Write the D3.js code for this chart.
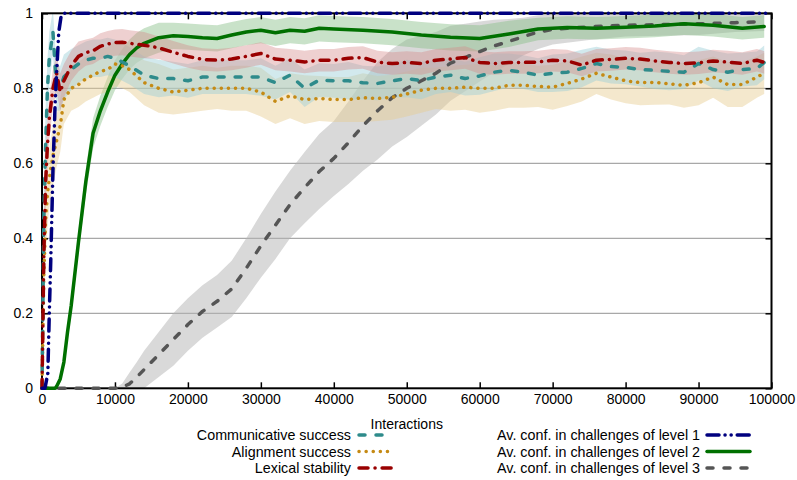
<!DOCTYPE html>
<html>
<head>
<meta charset="utf-8">
<script src="https://cdn.jsdelivr.net/npm/d3@7"></script>
<style>
  body { margin: 0; background: #fff; }
  text { font-family: "Liberation Sans", Arial, Helvetica, sans-serif; }
</style>
</head>
<body>
<svg id="chart"></svg>
<script>
// shared interaction counts for the three noisy measures
const interactions = [
  0, 250, 500, 750, 1000, 1500, 2000, 2500, 3000, 4000, 5000, 6000, 7000, 8000, 9000, 10000, 11000, 12000,
  14000, 16000, 18000, 20000, 22000, 24000, 26000, 28000, 30000, 32000,
  34000, 36000, 38000, 40000, 42000, 44000, 46000, 48000, 50000, 52000,
  54000, 56000, 58000, 60000, 62000, 64000, 66000, 68000, 70000, 72000,
  74000, 76000, 78000, 80000, 82000, 84000, 86000, 88000, 90000, 92000,
  94000, 96000, 98000, 99000
];

const commSuccess = [
  0, 0.45, 0.65, 0.8, 0.88, 0.95, 0.8, 0.8, 0.83, 0.85, 0.865, 0.875, 0.88, 0.88, 0.885, 0.88, 0.87, 0.86,
  0.835, 0.826, 0.826, 0.82, 0.83, 0.83, 0.83, 0.83, 0.83, 0.815,
  0.835, 0.8, 0.822, 0.82, 0.82, 0.815, 0.813, 0.82, 0.826, 0.821,
  0.83, 0.835, 0.826, 0.833, 0.843, 0.848, 0.843, 0.835, 0.84, 0.843,
  0.853, 0.866, 0.858, 0.856, 0.85, 0.848, 0.845, 0.843, 0.866, 0.85,
  0.843, 0.85, 0.853, 0.869
];
const commSpread = [
  0, 0.1, 0.1, 0.08, 0.07, 0.06, 0.06, 0.06, 0.06, 0.055, 0.05, 0.05, 0.05, 0.05, 0.05, 0.05, 0.05, 0.05,
  0.05, 0.05, 0.045, 0.045, 0.045, 0.045, 0.045, 0.045, 0.05, 0.045,
  0.045, 0.05, 0.045, 0.045, 0.05, 0.045, 0.045, 0.045, 0.05, 0.05,
  0.045, 0.045, 0.045, 0.05, 0.05, 0.045, 0.045, 0.045, 0.05, 0.05,
  0.05, 0.045, 0.045, 0.045, 0.045, 0.05, 0.05, 0.045, 0.045, 0.05,
  0.05, 0.045, 0.045, 0.045
];

const alignSuccess = [
  0, 0.3, 0.45, 0.52, 0.56, 0.62, 0.66, 0.7, 0.77, 0.8, 0.81, 0.825, 0.835, 0.845, 0.85, 0.865, 0.86, 0.85,
  0.815, 0.8, 0.79, 0.795, 0.8, 0.8, 0.8, 0.8, 0.79, 0.765,
  0.78, 0.77, 0.773, 0.77, 0.77, 0.775, 0.773, 0.776, 0.785, 0.795,
  0.8, 0.8, 0.803, 0.8, 0.8, 0.808, 0.808, 0.805, 0.803, 0.813,
  0.825, 0.84, 0.83, 0.82, 0.815, 0.816, 0.812, 0.808, 0.815, 0.83,
  0.81, 0.81, 0.83, 0.84
];
const alignSpread = [
  0, 0.1, 0.1, 0.09, 0.08, 0.08, 0.07, 0.07, 0.065, 0.06, 0.06, 0.06, 0.06, 0.06, 0.06, 0.06, 0.06, 0.06,
  0.06, 0.065, 0.06, 0.06, 0.06, 0.055, 0.06, 0.06, 0.065, 0.06,
  0.06, 0.065, 0.06, 0.06, 0.06, 0.065, 0.06, 0.06, 0.06, 0.06,
  0.055, 0.06, 0.06, 0.065, 0.06, 0.06, 0.06, 0.055, 0.06, 0.06,
  0.06, 0.055, 0.06, 0.06, 0.06, 0.06, 0.055, 0.06, 0.06, 0.055,
  0.06, 0.06, 0.055, 0.055
];

const lexStability = [
  0, 0.35, 0.55, 0.65, 0.72, 0.8, 0.84, 0.79, 0.82, 0.86, 0.885, 0.895, 0.9, 0.912, 0.918, 0.922, 0.923, 0.92,
  0.915, 0.908, 0.896, 0.885, 0.877, 0.875, 0.878, 0.885, 0.893, 0.878,
  0.875, 0.87, 0.875, 0.875, 0.88, 0.882, 0.87, 0.866, 0.869, 0.866,
  0.875, 0.878, 0.882, 0.869, 0.866, 0.869, 0.869, 0.87, 0.875, 0.873,
  0.862, 0.875, 0.877, 0.88, 0.878, 0.873, 0.869, 0.866, 0.868, 0.873,
  0.87, 0.866, 0.875, 0.869
];
const lexSpread = [
  0, 0.1, 0.08, 0.07, 0.06, 0.05, 0.05, 0.05, 0.045, 0.04, 0.04, 0.035, 0.035, 0.035, 0.035, 0.035, 0.035, 0.035,
  0.035, 0.03, 0.03, 0.03, 0.03, 0.03, 0.03, 0.03, 0.03, 0.03,
  0.03, 0.03, 0.03, 0.03, 0.03, 0.03, 0.03, 0.03, 0.03, 0.03,
  0.03, 0.03, 0.03, 0.03, 0.03, 0.03, 0.03, 0.03, 0.03, 0.03,
  0.03, 0.03, 0.03, 0.03, 0.03, 0.03, 0.03, 0.03, 0.03, 0.03,
  0.03, 0.03, 0.03, 0.03
];

// challenge levels, each with its own sampling
const level1X = [0, 400, 800, 1000, 1200, 1500, 1800, 2000, 2300, 2600, 3000, 100000];
const level1Conf = [0, 0, 0.04, 0.2, 0.34, 0.58, 0.76, 0.84, 0.95, 0.99, 1, 1];

const level2X = [
  0, 1000, 1800, 2000, 2500, 3000, 3500, 4000, 5000, 6000, 7000, 8000, 9000, 10000, 11000, 12000, 13000, 14000,
  16000, 18000, 20000, 22000, 24000, 26000, 28000, 30000, 32000, 34000, 36000, 38000, 40000,
  44000, 48000, 52000, 56000, 60000, 64000, 68000, 72000, 76000, 80000, 84000, 88000, 92000, 96000, 99000
];
const level2Conf = [
  0, 0, 0, 0.005, 0.025, 0.07, 0.15, 0.22, 0.39, 0.55, 0.68, 0.74, 0.79, 0.835, 0.865, 0.89, 0.908, 0.92,
  0.935, 0.94, 0.938, 0.935, 0.933, 0.942, 0.95, 0.955, 0.948, 0.955, 0.952, 0.96, 0.958,
  0.955, 0.95, 0.942, 0.936, 0.933, 0.945, 0.958, 0.962, 0.96, 0.963, 0.966, 0.972, 0.968, 0.96, 0.965
];
const level2Spread = [
  0, 0, 0, 0.005, 0.01, 0.015, 0.02, 0.025, 0.03, 0.035, 0.04, 0.04, 0.04, 0.04, 0.04, 0.04, 0.04, 0.04,
  0.04, 0.035, 0.035, 0.035, 0.035, 0.035, 0.035, 0.035, 0.035, 0.035, 0.035, 0.035, 0.035,
  0.035, 0.035, 0.035, 0.035, 0.035, 0.035, 0.03, 0.03, 0.03, 0.03, 0.03, 0.03, 0.03, 0.03, 0.03
];

const level3X = [
  0, 10000, 11000, 12000, 13000, 14000, 16000, 18000, 20000, 22000, 24000, 26000, 28000, 30000,
  32000, 34000, 36000, 38000, 40000, 42000, 44000, 46000, 48000, 50000, 52000, 54000, 56000,
  58000, 60000, 62000, 64000, 66000, 68000, 70000, 75000, 80000, 85000, 90000, 95000, 99000
];
const level3Conf = [
  0, 0, 0.003, 0.012, 0.03, 0.05, 0.09, 0.13, 0.17, 0.205, 0.232, 0.265, 0.32, 0.38,
  0.435, 0.49, 0.535, 0.578, 0.613, 0.655, 0.7, 0.74, 0.775, 0.8, 0.82, 0.84, 0.867,
  0.882, 0.898, 0.913, 0.925, 0.938, 0.95, 0.957, 0.964, 0.968, 0.97, 0.972, 0.975, 0.978
];
const level3Spread = [
  0, 0, 0.01, 0.03, 0.04, 0.05, 0.06, 0.07, 0.07, 0.07, 0.07, 0.075, 0.08, 0.085,
  0.09, 0.09, 0.095, 0.1, 0.1, 0.11, 0.12, 0.13, 0.13, 0.13, 0.12, 0.11, 0.1,
  0.09, 0.08, 0.07, 0.06, 0.05, 0.045, 0.04, 0.035, 0.03, 0.03, 0.03, 0.025, 0.025
];

const xTicks = [0, 10000, 20000, 30000, 40000, 50000, 60000, 70000, 80000, 90000, 100000];
const yTicks = [0, 0.2, 0.4, 0.6, 0.8, 1];
const gridValues = [0.2, 0.4, 0.6, 0.8];

const W = 797, H = 480;
const svg = d3.select("#chart").attr("width", W).attr("height", H);

const x = d3.scaleLinear().domain([0, 100000]).range([42, 771.5]);
const y = d3.scaleLinear().domain([0, 1]).range([388.3, 13.3]);

const zip = (xs, ms, ss) => xs.map((v, i) => ({ x: v, m: ms[i], s: ss ? ss[i] : 0 }));

const series = [
  { key: "level3", label: "Av. conf. in challenges of level 3", data: zip(level3X, level3Conf, level3Spread),
    color: "#555555", band: "#b4b4b4", bandOp: 0.5, width: 3.5, dash: "6,11", col: 1, row: 2 },
  { key: "level2", label: "Av. conf. in challenges of level 2", data: zip(level2X, level2Conf, level2Spread),
    color: "#007000", band: "#88bf88", bandOp: 0.45, width: 3.5, dash: null, col: 1, row: 1 },
  { key: "align", label: "Alignment success", data: zip(interactions, alignSuccess, alignSpread),
    color: "#c58a14", band: "#e6cc90", bandOp: 0.45, width: 3.5, dash: "0.1,7", col: 0, row: 1 },
  { key: "comm", label: "Communicative success", data: zip(interactions, commSuccess, commSpread),
    color: "#2e8b8b", band: "#9ccfd8", bandOp: 0.45, width: 3.5, dash: "6,11", col: 0, row: 0 },
  { key: "lex", label: "Lexical stability", data: zip(interactions, lexStability, lexSpread),
    color: "#990000", band: "#d48a8a", bandOp: 0.4, width: 3.5, dash: "9,7,0.1,7", col: 0, row: 2 },
  { key: "level1", label: "Av. conf. in challenges of level 1", data: zip(level1X, level1Conf, null),
    color: "#00007f", band: null, bandOp: 0, width: 3.5, dash: "12,6,0.1,6,0.1,6", col: 1, row: 0 }
];

svg.append("defs").append("clipPath").attr("id", "plotClip")
  .append("rect")
  .attr("x", x(0)).attr("y", y(1))
  .attr("width", x(100000) - x(0)).attr("height", y(0) - y(1));

// grid
svg.append("g").selectAll("line").data(gridValues).join("line")
  .attr("x1", x(0)).attr("x2", x(100000))
  .attr("y1", d => y(d)).attr("y2", d => y(d))
  .attr("stroke", "#a8a8a8").attr("stroke-width", 1.2);

// bands
const area = d3.area()
  .x(d => x(d.x))
  .y0(d => y(d.m - d.s))
  .y1(d => y(d.m + d.s));

svg.append("g").attr("clip-path", "url(#plotClip)")
  .selectAll("path").data(series.filter(s => s.band)).join("path")
  .attr("d", s => area(s.data))
  .attr("fill", s => s.band)
  .attr("fill-opacity", s => s.bandOp);

// frame and ticks
const fontSize = 14;
const xAxisB = d3.axisBottom(x).tickValues(xTicks).tickSize(-6).tickPadding(6)
  .tickFormat(d3.format("d"));
const xAxisT = d3.axisTop(x).tickValues(xTicks).tickSize(-6).tickFormat("");
const yAxisL = d3.axisLeft(y).tickValues(yTicks).tickSize(-6).tickPadding(9)
  .tickFormat(d => String(+d.toFixed(1)));
const yAxisR = d3.axisRight(y).tickValues(yTicks).tickSize(-6).tickFormat("");

function styleAxis(g) {
  g.select(".domain").remove();
  g.selectAll(".tick line").attr("stroke", "#000").attr("stroke-width", 1.5);
  g.selectAll(".tick text").attr("fill", "#000")
    .style("font-size", fontSize + "px")
    .style("font-family", "'Liberation Sans', Arial, Helvetica, sans-serif");
}

svg.append("g").attr("transform", `translate(0,${y(0)})`).call(xAxisB).call(styleAxis);
svg.append("g").attr("transform", `translate(0,${y(1)})`).call(xAxisT).call(styleAxis);
svg.append("g").attr("transform", `translate(${x(0)},0)`).call(yAxisL).call(styleAxis);
svg.append("g").attr("transform", `translate(${x(100000)},0)`).call(yAxisR).call(styleAxis);

svg.append("rect")
  .attr("x", x(0)).attr("y", y(1))
  .attr("width", x(100000) - x(0)).attr("height", y(0) - y(1))
  .attr("fill", "none").attr("stroke", "#000").attr("stroke-width", 2);

// lines
const line = d3.line().x(d => x(d.x)).y(d => y(d.m));

svg.append("g").selectAll("path").data(series).join("path")
  .attr("d", s => line(s.data))
  .attr("fill", "none")
  .attr("stroke", s => s.color)
  .attr("stroke-width", s => s.width)
  .attr("stroke-linecap", "round")
  .attr("stroke-linejoin", "round")
  .attr("stroke-dasharray", s => s.dash);

// axis title
svg.append("text")
  .attr("x", (x(0) + x(100000)) / 2).attr("y", 429)
  .attr("text-anchor", "middle")
  .style("font-size", "14px")
  .text("Interactions");

// legend
const legendCols = [{ textEnd: 351, sx0: 359, sx1: 393 }, { textEnd: 700, sx0: 707, sx1: 750 }];
const legendRows = [440, 456.5, 473];

const legend = svg.append("g");
series.forEach(s => {
  const c = legendCols[s.col];
  const by = legendRows[s.row];
  legend.append("text")
    .attr("x", c.textEnd).attr("y", by)
    .attr("text-anchor", "end")
    .style("font-size", "14.3px")
    .text(s.label);
  legend.append("line")
    .attr("x1", c.sx0).attr("x2", c.sx1)
    .attr("y1", by - 5).attr("y2", by - 5)
    .attr("stroke", s.color)
    .attr("stroke-width", s.width)
    .attr("stroke-linecap", "round")
    .attr("stroke-dasharray", s.dash);
});
</script>
</body>
</html>
